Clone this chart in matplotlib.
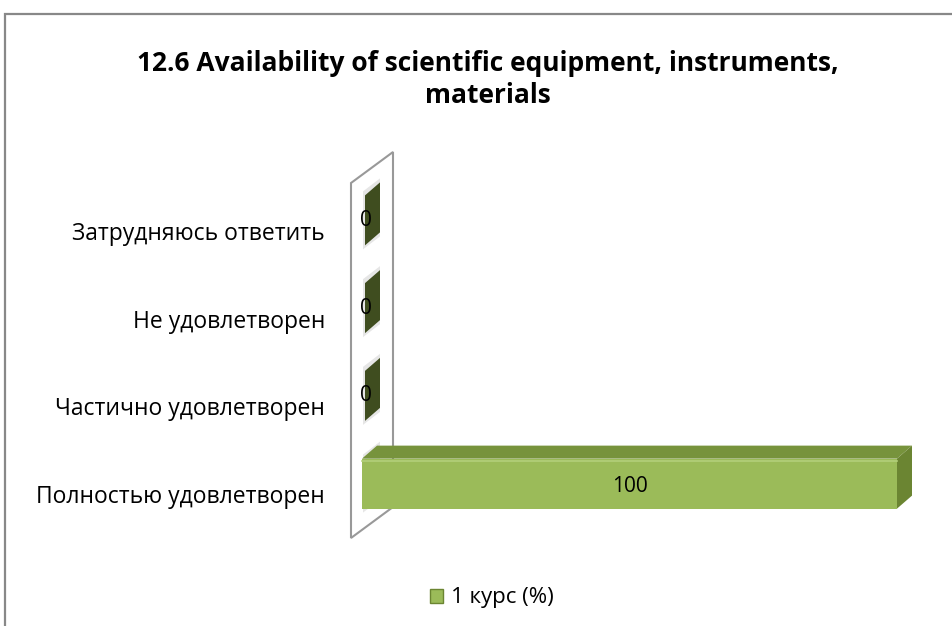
import numpy as np
import matplotlib.pyplot as plt
from matplotlib.patches import Polygon, Rectangle, Patch

plt.rcParams['font.family'] = ['Open Sans', 'DejaVu Sans']

categories = ['Полностью удовлетворен', 'Частично удовлетворен',
              'Не удовлетворен', 'Затрудняюсь ответить']
values = [100, 0, 0, 0]
series_name = '1 курс (%)'
title = '12.6 Availability of scientific equipment, instruments,\nmaterials'

front_col = '#9bbb59'
top_col = '#77933c'
side_col = '#6b8532'
zero_col = '#3f4d1f'

W, H = 953, 626
fig = plt.figure(figsize=(W / 100, H / 100), dpi=100)

# chart frame (cut off at right and bottom like the screenshot)
fig.patches.append(Rectangle((5.5 / W, -0.1), 1.2, (H - 13.5) / H + 0.1,
                             transform=fig.transFigure, fill=False,
                             ec='#888888', lw=1.6))

ax = fig.add_axes([362 / W, (H - 539) / H, (897 - 362) / W, (539 - 188) / H])
ax.set_xlim(0, 100)
ax.set_ylim(-0.5, 3.5)
ax.axis('off')

# pixel -> data scale for the 3d depth
px_x = 100 / (897 - 362)
px_y = 4.0 / (539 - 188)
dx, dy = 15 * px_x, 13 * px_y
shift = 11.5 * px_y
h = 50 * px_y

# back wall
wx0, wx1 = -11 * px_x, 31 * px_x
wall = [(wx0, -0.5 + 1 * px_y), (wx1, -0.5 + 32 * px_y),
        (wx1, 3.5 + 36 * px_y), (wx0, 3.5 + 5 * px_y)]
ax.add_patch(Polygon(wall, closed=True, fc='white', ec='#999999', lw=1.5,
                     clip_on=False, zorder=1))

y = np.arange(len(categories))
for yi, v in zip(y, values):
    yc = yi + shift
    yb, yt = yc - h / 2, yc + h / 2
    # soft shadow on the wall
    sx = 1 * px_x
    ax.add_patch(Polygon([(sx, yb - 4 * px_y), (sx + dx + 2 * px_x, yb + dy - 4 * px_y),
                          (sx + dx + 2 * px_x, yt + dy + 4 * px_y), (sx, yt + 4 * px_y)],
                         fc='#e6e6e6', ec='none', zorder=2, clip_on=False))
    if v > 0:
        ax.barh(yc, v, height=h, color=front_col, zorder=3, clip_on=False)
        ax.add_patch(Polygon([(0, yt), (v, yt), (v + dx, yt + dy), (dx, yt + dy)],
                             fc=top_col, ec='none', zorder=3, clip_on=False))
        ax.add_patch(Polygon([(v, yb), (v + dx, yb + dy), (v + dx, yt + dy), (v, yt)],
                             fc=side_col, ec='none', zorder=3, clip_on=False))
        ax.plot([0, v], [yt - 2 * px_y] * 2, color='#b3cf7a', lw=1.2, zorder=4,
                clip_on=False)
        ax.text(v / 2, yc - 3 * px_y, str(v), ha='center', va='center',
                fontsize=15, zorder=5)
    else:
        ax.add_patch(Polygon([(v + 3 * px_x, yb), (v + 3 * px_x + dx, yb + dy),
                              (v + 3 * px_x + dx, yt + dy), (v + 3 * px_x, yt)],
                             fc=zero_col, ec='none', zorder=3, clip_on=False))
        ax.text(v - 0.3, yc, str(v), ha='left', va='center',
                fontsize=15, zorder=5)

for yi, lab in zip(y, categories):
    ax.text(-37 * px_x, yi - 2 * px_y, lab, ha='right', va='center', fontsize=16.5)

fig.suptitle(title, x=488 / W, y=1 - 79.5 / H, fontsize=19, fontweight='bold',
             va='center', linespacing=1.25)

leg = fig.legend(handles=[Patch(fc=front_col, ec='#6b8532', label=series_name)],
                 loc='center', bbox_to_anchor=(492 / W, 1 - 598 / H),
                 frameon=False, fontsize=16, handlelength=0.6, handleheight=0.6,
                 handletextpad=0.35)

fig.savefig('out.png', dpi=100)
